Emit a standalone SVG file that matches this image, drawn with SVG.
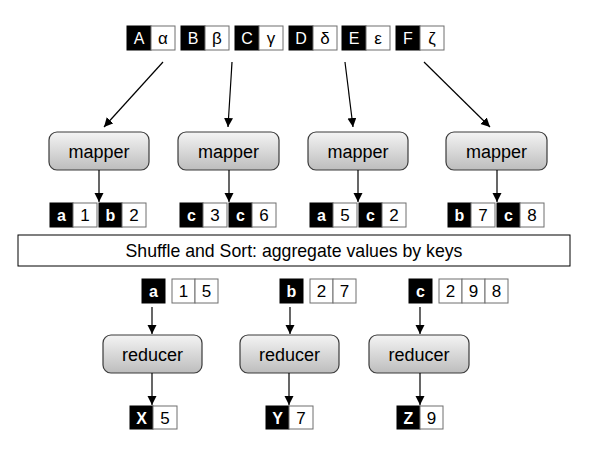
<svg xmlns="http://www.w3.org/2000/svg" width="595" height="449" viewBox="0 0 595 449">
<defs>
<linearGradient id="g" x1="0" y1="0" x2="0" y2="1">
<stop offset="0" stop-color="#f4f4f4"/>
<stop offset="1" stop-color="#bdbdbd"/>
</linearGradient>
<marker id="ah" markerUnits="userSpaceOnUse" markerWidth="10" markerHeight="10" refX="9" refY="4.5" orient="auto">
<path d="M0,0 L9,4.5 L0,9 z" fill="#000"/>
</marker>
</defs>
<style>
.k{fill:#000;stroke:#000;stroke-width:1}
.v{fill:#fff;stroke:#6e6e6e;stroke-width:1}
.ku{font-family:"Liberation Sans",Arial,sans-serif;font-size:16px;fill:#fff;text-anchor:middle}
.kb{font-family:"Liberation Sans",Arial,sans-serif;font-size:16px;font-weight:bold;fill:#fff;text-anchor:middle}
.vt{font-family:"Liberation Sans",Arial,sans-serif;font-size:17px;fill:#000;text-anchor:middle}
.proc{fill:url(#g);stroke:#3a3a3a;stroke-width:1.2}
.pt{font-family:"Liberation Sans",Arial,sans-serif;font-size:18px;fill:#000;text-anchor:middle}
.bar{fill:#fff;stroke:#000;stroke-width:1}
.bt{font-family:"Liberation Sans",Arial,sans-serif;font-size:17.7px;fill:#000;text-anchor:middle}
.c{stroke:#000;stroke-width:1.2;fill:none;marker-end:url(#ah)}
</style>
<rect width="595" height="449" fill="#fff"/>

<g id="in-A"><rect class="k" x="127" y="26" width="24" height="24"/><rect class="v" x="151" y="26" width="24" height="24"/><text class="ku" x="139" y="44">A</text><text class="vt" x="163" y="44">α</text></g>
<g id="in-B"><rect class="k" x="181" y="26" width="24" height="24"/><rect class="v" x="205" y="26" width="24" height="24"/><text class="ku" x="193" y="44">B</text><text class="vt" x="217" y="44">β</text></g>
<g id="in-C"><rect class="k" x="235" y="26" width="24" height="24"/><rect class="v" x="259" y="26" width="24" height="24"/><text class="ku" x="247" y="44">C</text><text class="vt" x="271" y="44">γ</text></g>
<g id="in-D"><rect class="k" x="289" y="26" width="24" height="24"/><rect class="v" x="313" y="26" width="24" height="24"/><text class="ku" x="301" y="44">D</text><text class="vt" x="325" y="44">δ</text></g>
<g id="in-E"><rect class="k" x="342" y="26" width="24" height="24"/><rect class="v" x="366" y="26" width="24" height="24"/><text class="ku" x="354" y="44">E</text><text class="vt" x="378" y="44">ε</text></g>
<g id="in-F"><rect class="k" x="396" y="26" width="24" height="24"/><rect class="v" x="420" y="26" width="24" height="24"/><text class="ku" x="408" y="44">F</text><text class="vt" x="432" y="44">ζ</text></g>

<g id="mapper1"><rect class="proc" x="49" y="132" width="100" height="38" rx="8"/><text class="pt" x="99" y="158">mapper</text></g>
<g id="mapper2"><rect class="proc" x="178" y="132" width="101" height="38" rx="8"/><text class="pt" x="228.5" y="158">mapper</text></g>
<g id="mapper3"><rect class="proc" x="308" y="132" width="100" height="38" rx="8"/><text class="pt" x="358" y="158">mapper</text></g>
<g id="mapper4"><rect class="proc" x="446" y="132" width="101" height="38" rx="8"/><text class="pt" x="496.5" y="158">mapper</text></g>

<g id="m1-a1"><rect class="k" x="50" y="203" width="23" height="24"/><rect class="v" x="73" y="203" width="24" height="24"/><text class="kb" x="61.5" y="221">a</text><text class="vt" x="85" y="221">1</text></g>
<g id="m1-b2"><rect class="k" x="99" y="203" width="23" height="24"/><rect class="v" x="122" y="203" width="24" height="24"/><text class="kb" x="110.5" y="221">b</text><text class="vt" x="134" y="221">2</text></g>
<g id="m2-c3"><rect class="k" x="180" y="203" width="23" height="24"/><rect class="v" x="203" y="203" width="24" height="24"/><text class="kb" x="191.5" y="221">c</text><text class="vt" x="215" y="221">3</text></g>
<g id="m2-c6"><rect class="k" x="229" y="203" width="23" height="24"/><rect class="v" x="252" y="203" width="24" height="24"/><text class="kb" x="240.5" y="221">c</text><text class="vt" x="264" y="221">6</text></g>
<g id="m3-a5"><rect class="k" x="310" y="203" width="23" height="24"/><rect class="v" x="333" y="203" width="24" height="24"/><text class="kb" x="321.5" y="221">a</text><text class="vt" x="345" y="221">5</text></g>
<g id="m3-c2"><rect class="k" x="359" y="203" width="23" height="24"/><rect class="v" x="382" y="203" width="24" height="24"/><text class="kb" x="370.5" y="221">c</text><text class="vt" x="394" y="221">2</text></g>
<g id="m4-b7"><rect class="k" x="448" y="203" width="23" height="24"/><rect class="v" x="471" y="203" width="24" height="24"/><text class="kb" x="459.5" y="221">b</text><text class="vt" x="483" y="221">7</text></g>
<g id="m4-c8"><rect class="k" x="497" y="203" width="23" height="24"/><rect class="v" x="520" y="203" width="24" height="24"/><text class="kb" x="508.5" y="221">c</text><text class="vt" x="532" y="221">8</text></g>

<g id="shuffle"><rect class="bar" x="18" y="235" width="552" height="31"/><text class="bt" x="294" y="257">Shuffle and Sort: aggregate values by keys</text></g>

<g id="r-a"><rect class="k" x="142" y="279" width="23" height="24"/><text class="kb" x="153.5" y="297">a</text><rect class="v" x="172" y="279" width="23" height="24"/><rect class="v" x="195" y="279" width="23" height="24"/><text class="vt" x="183.5" y="297">1</text><text class="vt" x="206.5" y="297">5</text></g>
<g id="r-b"><rect class="k" x="280" y="279" width="23" height="24"/><text class="kb" x="291.5" y="297">b</text><rect class="v" x="310" y="279" width="23" height="24"/><rect class="v" x="333" y="279" width="23" height="24"/><text class="vt" x="321.5" y="297">2</text><text class="vt" x="344.5" y="297">7</text></g>
<g id="r-c"><rect class="k" x="409" y="279" width="23" height="24"/><text class="kb" x="420.5" y="297">c</text><rect class="v" x="439" y="279" width="23" height="24"/><rect class="v" x="462" y="279" width="23" height="24"/><rect class="v" x="485" y="279" width="23" height="24"/><text class="vt" x="450.5" y="297">2</text><text class="vt" x="473.5" y="297">9</text><text class="vt" x="496.5" y="297">8</text></g>

<g id="reducer1"><rect class="proc" x="103" y="335" width="99" height="38" rx="8"/><text class="pt" x="152.5" y="361">reducer</text></g>
<g id="reducer2"><rect class="proc" x="240" y="335" width="99" height="38" rx="8"/><text class="pt" x="289.5" y="361">reducer</text></g>
<g id="reducer3"><rect class="proc" x="369" y="335" width="100" height="38" rx="8"/><text class="pt" x="419" y="361">reducer</text></g>

<g id="out-X"><rect class="k" x="130" y="406" width="23" height="23"/><rect class="v" x="153" y="406" width="24" height="23"/><text class="kb" x="141.5" y="423.5">X</text><text class="vt" x="165" y="423.5">5</text></g>
<g id="out-Y"><rect class="k" x="266" y="406" width="23" height="23"/><rect class="v" x="289" y="406" width="24" height="23"/><text class="kb" x="277.5" y="423.5">Y</text><text class="vt" x="301" y="423.5">7</text></g>
<g id="out-Z"><rect class="k" x="397" y="406" width="23" height="23"/><rect class="v" x="420" y="406" width="23" height="23"/><text class="kb" x="408.5" y="423.5">Z</text><text class="vt" x="431.5" y="423.5">9</text></g>

<g id="connectors">
<line class="c" x1="163" y1="62" x2="104" y2="127"/>
<line class="c" x1="232" y1="62" x2="228" y2="127"/>
<line class="c" x1="345" y1="62" x2="353" y2="127"/>
<line class="c" x1="424" y1="62" x2="490" y2="127"/>
<line class="c" x1="99" y1="170" x2="99" y2="202"/>
<line class="c" x1="229" y1="170" x2="229" y2="202"/>
<line class="c" x1="358" y1="170" x2="358" y2="202"/>
<line class="c" x1="497" y1="170" x2="497" y2="202"/>
<line class="c" x1="152" y1="307" x2="152" y2="334"/>
<line class="c" x1="290" y1="307" x2="290" y2="334"/>
<line class="c" x1="420" y1="307" x2="420" y2="334"/>
<line class="c" x1="152" y1="373" x2="152" y2="405"/>
<line class="c" x1="289" y1="373" x2="289" y2="405"/>
<line class="c" x1="420" y1="373" x2="420" y2="405"/>
</g>
</svg>
